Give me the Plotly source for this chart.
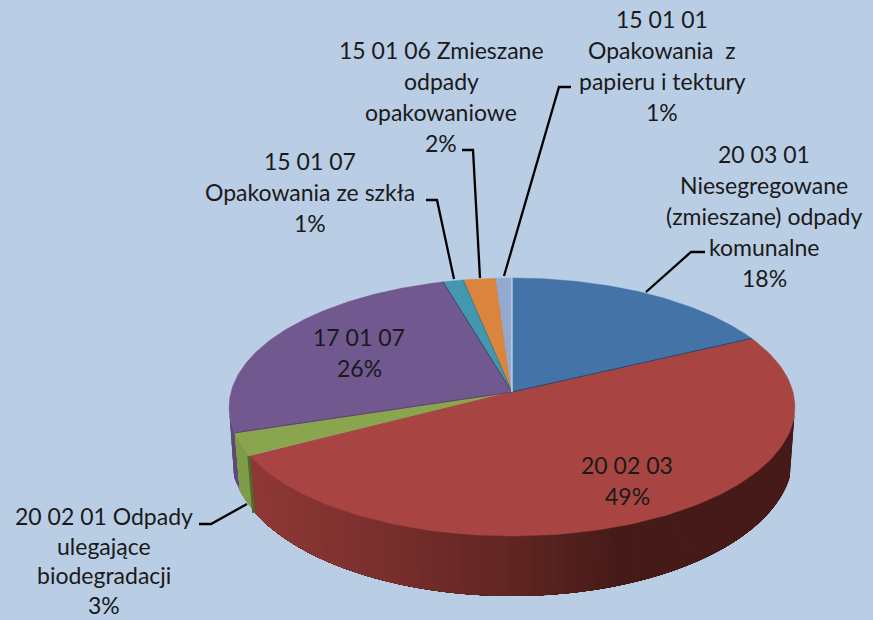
import numpy as np
import plotly.graph_objects as go

# ---- data ----
categories = ["20 03 01", "20 02 03", "20 02 01", "17 01 07", "15 01 07", "15 01 06", "15 01 01"]
values = [17.7, 49.4, 2.9, 25.6, 1.3, 2.1, 1.0]
top_colors = ["#4473A8", "#A84543", "#89A54E", "#71588F", "#4198AF", "#DB843D", "#93A9CF"]
edge_colors = ["#23466F", "#A84543", "#5F3F6F", "#4F3B6B", "#2F7F8F", "#93A9CF", "#DCE6F2"]

label_lines = [
    ["20 03 01", "Niesegregowane", "(zmieszane) odpady", "komunalne", "18%"],
    ["20 02 03", "49%"],
    ["20 02 01 Odpady", "ulegające", "biodegradacji", "3%"],
    ["17 01 07", "26%"],
    ["15 01 07", "Opakowania ze szkła", "1%"],
    ["15 01 06 Zmieszane", "odpady", "opakowaniowe", "2%"],
    ["15 01 01", "Opakowania  z", "papieru i tektury", "1%"],
]
label_x = [764, 627, 104, 359, 310, 441, 662]
label_y0 = [154, 465, 516, 337, 161, 50, 19]
label_step = [31, 31, 29.6, 31, 31, 31, 31]
leader_x = [[646, 691, 705], None, [247, 211, 199], None, [454, 437, 426], [480, 473, 462], [504, 559, 571]]
leader_y = [[292, 252, 252], None, [504, 524, 524], None, [279, 200, 200], [278, 150, 150], [276, 87, 87]]

# ---- projection of the pie ----
BG = "#B9CDE5"
CX, CY = 512, 392
K, RX, RY = 0.1163, 281, 127.3
LOW_CY, LOW_RX, LOW_RY, SHRINK = 456, 281, 140, 0.982


def top(t):
    s, c = np.sin(t), np.cos(t)
    d = 1 + K * c
    return CX + RX * s / d, CY - RY * c / d


def low(t):
    x, _ = top(t)
    dx = (x - CX) * SHRINK
    return CX + dx, LOW_CY + LOW_RY * np.sqrt(np.clip(1 - (dx / LOW_RX) ** 2, 0, 1))


def lerp(a, b, u):
    ca = [int(a[i:i + 2], 16) for i in (1, 3, 5)]
    cb = [int(b[i:i + 2], 16) for i in (1, 3, 5)]
    return "rgb(%d,%d,%d)" % tuple(round(p + (q - p) * u) for p, q in zip(ca, cb))


cum = np.concatenate([[0], np.cumsum(values)]) / np.sum(values) * 2 * np.pi
fig = go.Figure()


def poly(xs, ys, color, lw=0.0):
    fig.add_trace(go.Scatter(x=xs, y=ys, mode="lines", fill="toself", fillcolor=color,
                             line=dict(color=color, width=lw), hoverinfo="skip", showlegend=False))


VIS_A, VIS_B = np.radians(96.7), np.radians(263.3)
side_styles = {1: ("#8E3835", "#451A18", 258, 620), 2: ("#7F9C49", "#7F9C49", 0, 1), 3: ("#5D4878", "#665082", 230, 250)}

# sides: back to front; every band runs on to the end of its wedge so no seams show
for i in (3, 2, 1):
    a, b = max(cum[i], VIS_A), min(cum[i + 1], VIS_B)
    if b <= a:
        continue
    edges = np.linspace(a, b, 70 if i == 1 else 5)
    c0, c1, x0, x1 = side_styles[i]
    for t0 in edges[:-1]:
        sub = np.linspace(t0, b, 80)
        tx, ty = top(sub)
        lx, ly = low(sub)
        u = float(np.clip((x1 - tx[0]) / (x1 - x0), 0, 1))
        col = lerp(c1, c0, u ** 0.8)
        poly(np.r_[tx, lx[::-1]], np.r_[ty, ly[::-1]], col)

# dark cut face between the red and green wedges
t_cut = cum[2]
xa, ya = top(t_cut)
xb, yb = low(t_cut)
fig.add_trace(go.Scatter(x=[xa - 1.5, xb - 1.5], y=[ya, yb], mode="lines", line=dict(color="#4F6B2A", width=3),
                         hoverinfo="skip", showlegend=False))

# top faces
for i in range(len(values)):
    th = np.linspace(cum[i], cum[i + 1], 120)
    tx, ty = top(th)
    poly(np.r_[CX, tx, CX], np.r_[CY, ty, CY], top_colors[i], 0.4)
for i in range(len(values)):
    ex, ey = top(cum[i + 1])
    fig.add_trace(go.Scatter(x=[CX, ex], y=[CY, ey], mode="lines", line=dict(color=edge_colors[i], width=1),
                             hoverinfo="skip", showlegend=False))

# leader lines
for lx, ly in zip(leader_x, leader_y):
    if lx:
        fig.add_trace(go.Scatter(x=lx, y=ly, mode="lines", line=dict(color="#000000", width=2.3),
                                 hoverinfo="skip", showlegend=False))

# labels
for lines, x, y0, step in zip(label_lines, label_x, label_y0, label_step):
    for j, txt in enumerate(lines):
        fig.add_annotation(x=x, y=y0 + j * step, text=txt, showarrow=False, xanchor="center", yanchor="middle",
                           font=dict(family="Lato, Carlito, sans-serif", size=23, color="#1A1A1A"))

fig.update_layout(
    width=873, height=620, autosize=False, margin=dict(l=0, r=0, t=0, b=0),
    paper_bgcolor=BG, plot_bgcolor=BG, showlegend=False,
    xaxis=dict(range=[0, 873], visible=False, fixedrange=True),
    yaxis=dict(range=[620, 0], visible=False, fixedrange=True),
)
fig.write_html("out.html", post_script="document.body.style.margin='0';", config={"displayModeBar": False})
